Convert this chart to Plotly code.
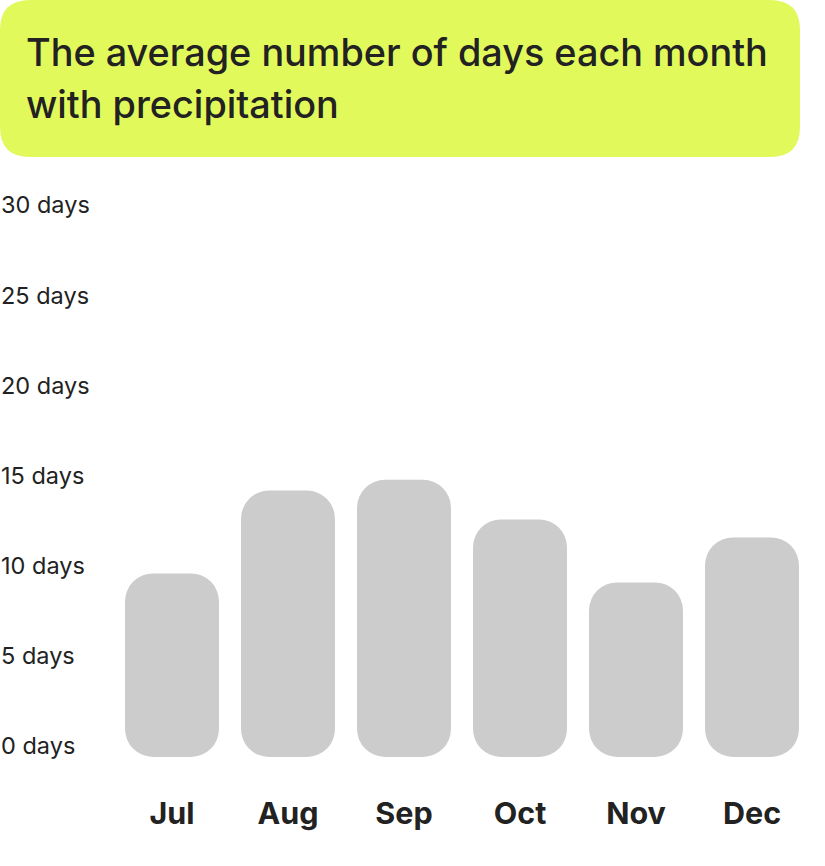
import plotly.graph_objects as go

months = ["Jul", "Aug", "Sep", "Oct", "Nov", "Dec"]
days = [10.2, 14.8, 15.4, 13.2, 9.7, 12.2]
base_days = [0, 0, 0, 0, 0, 0]
tick_vals = [0, 5, 10, 15, 20, 25, 30]
tick_text = [f"{v} days" for v in tick_vals]
title_lines = ["The average number of days each month", "with precipitation"]

W, H = 825, 866
BAR = "#cccccc"
LIME = "#e2f95c"
TXT = "#222222"
FONT = "Inter"

fig = go.Figure()
fig.add_trace(go.Bar(
    x=months, y=days, base=base_days,
    marker=dict(color=BAR, line=dict(width=0), cornerradius=28),
    hoverinfo="skip", showlegend=False))

# plot area geometry (pixels)
x0p, x1p = 114, 810
y_top, y_bot = 217, 757
fig.update_layout(
    width=W, height=H,
    margin=dict(l=0, r=0, t=0, b=0),
    paper_bgcolor="white", plot_bgcolor="white",
    bargap=0.19,
    font=dict(family=FONT, color=TXT),
    xaxis=dict(domain=[x0p / W, x1p / W], showgrid=False, zeroline=False,
               showline=False, ticks="", ticklabelstandoff=35,
               tickfont=dict(size=30.5, family=FONT, color=TXT, weight="bold")),
    yaxis=dict(domain=[(H - y_bot) / H, (H - y_top) / H], range=[0, 30],
               showgrid=False, zeroline=False, showline=False,
               showticklabels=False, ticks=""),
)

# y labels
for v, t in zip(tick_vals, tick_text):
    fig.add_annotation(x=0, xref="paper", xanchor="left", xshift=-1, y=v, yref="y",
                       yanchor="middle", yshift=12, text=t, showarrow=False,
                       font=dict(size=23.5, family=FONT, color=TXT))

# title box (rounded rect in paper coords)
bx0, bx1, by0, by1, r = 0, 800, 0, 157, 30
def px(x):
    return x / W
def py(y):
    return 1 - y / H
path = (f"M {px(bx0 + r)} {py(by0)} L {px(bx1 - r)} {py(by0)} "
        f"Q {px(bx1)} {py(by0)} {px(bx1)} {py(by0 + r)} "
        f"L {px(bx1)} {py(by1 - r)} Q {px(bx1)} {py(by1)} {px(bx1 - r)} {py(by1)} "
        f"L {px(bx0 + r)} {py(by1)} Q {px(bx0)} {py(by1)} {px(bx0)} {py(by1 - r)} "
        f"L {px(bx0)} {py(by0 + r)} Q {px(bx0)} {py(by0)} {px(bx0 + r)} {py(by0)} Z")
fig.add_shape(type="path", path=path, xref="paper", yref="paper",
              fillcolor=LIME, line=dict(width=0), layer="below")

for i, line in enumerate(title_lines):
    fig.add_annotation(x=24 / W, xref="paper", xanchor="left",
                       y=py(52 + 52 * i), yref="paper", yanchor="middle",
                       text=line, showarrow=False,
                       font=dict(size=37.8, family=FONT, color=TXT, weight=500))

fig.write_html("out.html", config={"displayModeBar": False},
               post_script="document.body.style.margin='0';")
